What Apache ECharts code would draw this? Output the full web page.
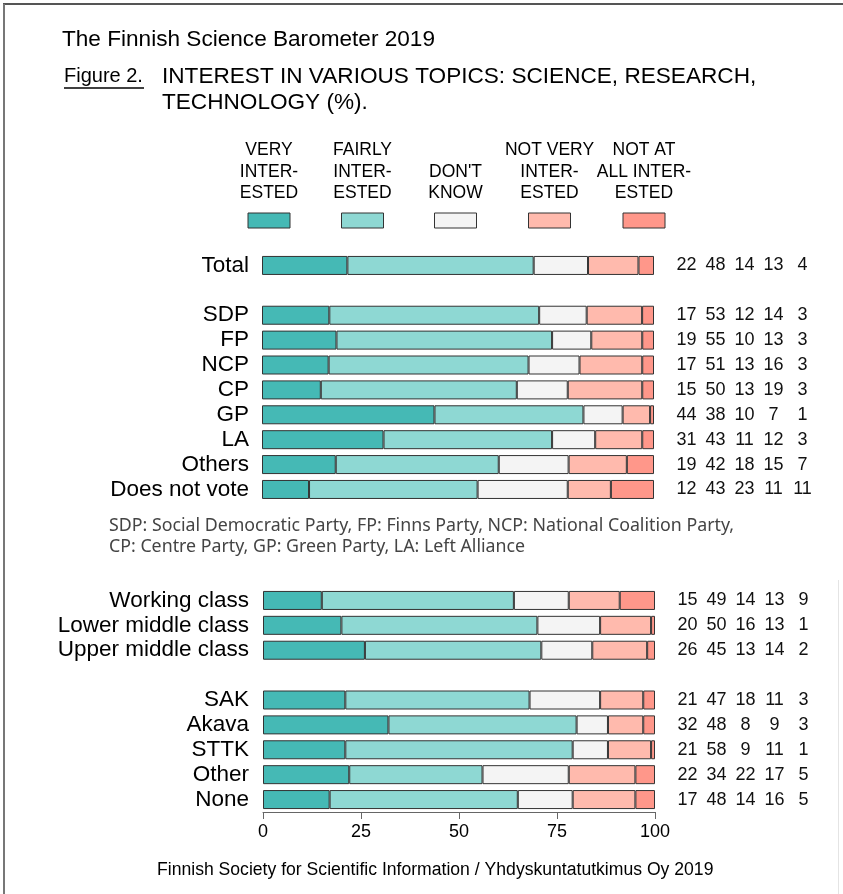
<!DOCTYPE html>
<html>
<head>
<meta charset="utf-8">
<script src="https://cdn.jsdelivr.net/npm/echarts@6/dist/echarts.min.js"></script>
<style>
  html, body { margin: 0; padding: 0; background: #fff; }
  #myChart { width: 843px; height: 894px; }
</style>
</head>
<body>
<div id="myChart"></div>
<script>
// categories
var partyCats = ['Total', '', 'SDP', 'FP', 'NCP', 'CP', 'GP', 'LA', 'Others', 'Does not vote'];
var classCats = ['Working class', 'Lower middle class', 'Upper middle class', '', 'SAK', 'Akava', 'STTK', 'Other', 'None'];

// series values (%), '-' = spacer row
var very1     = [22, '-', 17, 19, 17, 15, 44, 31, 19, 12];
var fairly1   = [48, '-', 53, 55, 51, 50, 38, 43, 42, 43];
var dontKnow1 = [14, '-', 12, 10, 13, 13, 10, 11, 18, 23];
var notVery1  = [13, '-', 14, 13, 16, 19,  7, 12, 15, 11];
var notAll1   = [ 4, '-',  3,  3,  3,  3,  1,  3,  7, 11];

var very2     = [15, 20, 26, '-', 21, 32, 21, 22, 17];
var fairly2   = [49, 50, 45, '-', 47, 48, 58, 34, 48];
var dontKnow2 = [14, 16, 13, '-', 18,  8,  9, 22, 14];
var notVery2  = [13, 13, 14, '-', 11,  9, 11, 17, 16];
var notAll2   = [ 9,  1,  2, '-',  3,  3,  1,  5,  5];

var legendNames = ['VERY\nINTER-\nESTED', 'FAIRLY\nINTER-\nESTED', "DON'T\nKNOW", 'NOT VERY\nINTER-\nESTED', 'NOT AT\nALL INTER-\nESTED'];
var colors = ['#45b9b5', '#8ed8d3', '#f4f4f4', '#ffbaad', '#ff978a'];
var xTicks = [0, 25, 50, 75, 100];

var sans = "'Liberation Sans', Arial, sans-serif";

var myChart = echarts.init(document.getElementById('myChart'));

function buildSeries(groups, gridIdx) {
    // normalise each row to 100 so every bar ends at the right edge
    var n = groups[0].length;
    var sums = [];
    for (var i = 0; i < n; i++) {
        var s = 0;
        groups.forEach(function (g) { if (g[i] !== '-') s += g[i]; });
        sums.push(s);
    }
    return groups.map(function (g, k) {
        var item = {
            type: 'bar',
            stack: 'g' + gridIdx,
            xAxisIndex: gridIdx,
            yAxisIndex: gridIdx,
            barWidth: 19,
            itemStyle: { color: colors[k], borderColor: '#333', borderWidth: 1 },
            data: g.map(function (v, i) { return v === '-' ? '-' : v / sums[i] * 100; }),
            silent: true
        };
        if (k === groups.length - 1) {
            item.label = {
                show: true,
                position: 'right',
                distance: 18,
                formatter: function (p) {
                    var i = p.dataIndex;
                    if (groups[0][i] === '-') return '';
                    return groups.map(function (gg) { return '{c|' + gg[i] + '}'; }).join('');
                },
                rich: {
                    c: { width: 29, align: 'center', fontSize: 18, fontFamily: sans, color: '#111' }
                }
            };
        }
        return item;
    });
}

var graphics = [
    { type: 'line', shape: { x1: 3, y1: 4, x2: 843, y2: 4 }, style: { stroke: '#555', lineWidth: 2 } },
    { type: 'line', shape: { x1: 4, y1: 4, x2: 4, y2: 894 }, style: { stroke: '#777', lineWidth: 2 } },
    { type: 'line', shape: { x1: 838.5, y1: 580, x2: 838.5, y2: 894 }, style: { stroke: '#e4e4e4', lineWidth: 1 } },
    { type: 'text', left: 62, top: 28, style: { text: 'The Finnish Science Barometer 2019', font: '22.6px ' + sans, fill: '#000' } },
    { type: 'text', left: 64, top: 66, style: { text: 'Figure 2.', font: '20px ' + sans, fill: '#000' } },
    { type: 'line', shape: { x1: 64, y1: 88, x2: 144, y2: 88 }, style: { stroke: '#000', lineWidth: 1.5 } },
    { type: 'text', left: 162, top: 64, style: { text: 'INTEREST IN VARIOUS TOPICS: SCIENCE, RESEARCH,\nTECHNOLOGY (%).', font: '22.6px ' + sans, fill: '#000', lineHeight: 26 } },
    { type: 'text', left: 109, top: 515, style: { text: 'SDP: Social Democratic Party, FP: Finns Party, NCP: National Coalition Party,\nCP: Centre Party, GP: Green Party, LA: Left Alliance', font: '17.8px "Noto Sans", sans-serif', fill: '#444', lineHeight: 21.5 } },
    { type: 'text', left: 157, top: 861, style: { text: 'Finnish Society for Scientific Information / Yhdyskuntatutkimus Oy 2019', font: '17.6px ' + sans, fill: '#000' } }
];

var legendX = [269, 362.5, 455.5, 549.5, 644];
legendNames.forEach(function (name, k) {
    var lines = name.split('\n').length;
    graphics.push({
        type: 'text', x: legendX[k], y: 204 - lines * 21.5,
        style: { text: name, font: '17.5px ' + sans, fill: '#000', align: 'center', lineHeight: 21.5 }
    });
    graphics.push({
        type: 'rect', shape: { x: legendX[k] - 21, y: 213, width: 42, height: 15 },
        style: { fill: colors[k], stroke: '#333', lineWidth: 1 }
    });
});

var option = {
    animation: false,
    graphic: graphics,
    grid: [
        { left: 262, width: 392, top: 253, height: 248.9 },
        { left: 263, width: 392, top: 588, height: 224 }
    ],
    xAxis: [
        { gridIndex: 0, type: 'value', min: 0, max: 100, show: false },
        {
            gridIndex: 1, type: 'value', min: 0, max: 100, interval: 25,
            axisLine: { show: true, lineStyle: { color: '#666', width: 1 } },
            axisTick: { show: true, length: 7, lineStyle: { color: '#666' } },
            splitLine: { show: false },
            axisLabel: {
                margin: 11, fontSize: 18, fontFamily: sans, color: '#000',
                formatter: function (v) { return xTicks.indexOf(v) >= 0 ? String(v) : ''; }
            }
        }
    ],
    yAxis: [
        {
            gridIndex: 0, type: 'category', data: partyCats, inverse: true,
            axisLine: { show: false }, axisTick: { show: false },
            axisLabel: { interval: 0, margin: 13, fontSize: 22.5, fontFamily: sans, color: '#000' }
        },
        {
            gridIndex: 1, type: 'category', data: classCats, inverse: true,
            axisLine: { show: false }, axisTick: { show: false },
            axisLabel: { interval: 0, margin: 14, fontSize: 22.5, fontFamily: sans, color: '#000' }
        }
    ],
    series: buildSeries([very1, fairly1, dontKnow1, notVery1, notAll1], 0)
        .concat(buildSeries([very2, fairly2, dontKnow2, notVery2, notAll2], 1))
};

myChart.setOption(option);
</script>
</body>
</html>
